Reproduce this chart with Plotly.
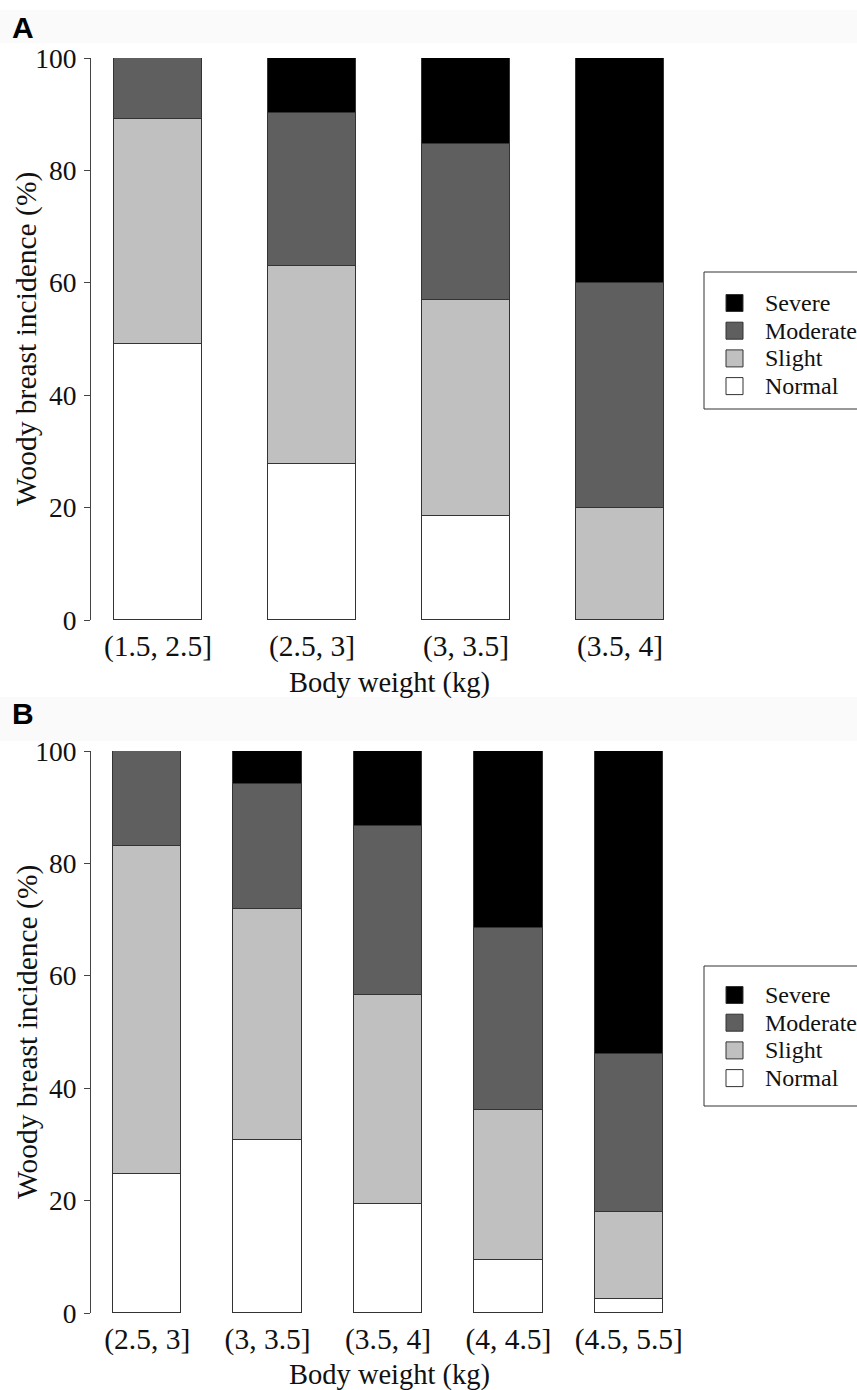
import plotly.graph_objects as go

W, H = 857, 1390

levels = ["Normal", "Slight", "Moderate", "Severe"]
colors = {"Normal": "#ffffff", "Slight": "#c0c0c0", "Moderate": "#5f5f5f", "Severe": "#000000"}

cats_a = ["(1.5, 2.5]", "(2.5, 3]", "(3, 3.5]", "(3.5, 4]"]
normal_a = [49.1, 27.8, 18.5, 0.0]
slight_a = [40.0, 35.2, 38.4, 20.0]
moderate_a = [10.9, 27.2, 27.8, 40.0]
severe_a = [0.0, 9.8, 15.3, 40.0]

cats_b = ["(2.5, 3]", "(3, 3.5]", "(3.5, 4]", "(4, 4.5]", "(4.5, 5.5]"]
normal_b = [24.8, 30.8, 19.4, 9.4, 2.5]
slight_b = [58.3, 41.1, 37.2, 26.7, 15.5]
moderate_b = [16.9, 22.2, 30.1, 32.4, 28.1]
severe_b = [0.0, 5.9, 13.3, 31.5, 53.9]

y_ticks = [0, 20, 40, 60, 80, 100]
x_title = "Body weight (kg)"
y_title = "Woody breast incidence (%)"

SERIF = "Liberation Serif, Times New Roman, serif"


def fx(px):
    return px / W


def fy(py):
    return 1 - py / H


fig = go.Figure()

series_a = {"Normal": normal_a, "Slight": slight_a, "Moderate": moderate_a, "Severe": severe_a}
series_b = {"Normal": normal_b, "Slight": slight_b, "Moderate": moderate_b, "Severe": severe_b}

for lev in levels:
    fig.add_trace(go.Bar(x=cats_a, y=series_a[lev], name=lev, xaxis="x", yaxis="y",
                         width=0.571, marker=dict(color=colors[lev], line=dict(color="#333333", width=1)),
                         showlegend=False))
for lev in levels:
    fig.add_trace(go.Bar(x=cats_b, y=series_b[lev], name=lev, xaxis="x2", yaxis="y2",
                         width=0.569, marker=dict(color=colors[lev], line=dict(color="#333333", width=1)),
                         showlegend=False))

# plot geometry (pixels)
XL, XR = 91, 690
A_TOP, A_BOT = 58, 620
B_TOP, B_BOT = 751, 1313

xa_r0 = -(158 - XL) / 154.0
xa_r1 = xa_r0 + (XR - XL) / 154.0
xb_r0 = -(147.2 - XL) / 120.4
xb_r1 = xb_r0 + (XR - XL) / 120.4

xtickfont = dict(family=SERIF, size=29.5, color="#111111")
ytickfont = dict(family=SERIF, size=27.5, color="#111111")

common_x = dict(type="category", showgrid=False, zeroline=False, showline=False, ticks="",
                tickfont=xtickfont, ticklabelstandoff=5, automargin=False)
common_y = dict(range=[0, 100], tickvals=y_ticks, showgrid=False, zeroline=False, showline=True,
                linecolor="#444444", linewidth=1, ticks="outside", ticklen=6, tickcolor="#444444",
                tickwidth=1, tickfont=ytickfont, ticklabelstandoff=2, automargin=False)

fig.update_layout(
    width=W, height=H,
    margin=dict(l=0, r=0, t=0, b=0, pad=0, autoexpand=False),
    paper_bgcolor="white", plot_bgcolor="white",
    barmode="stack", bargap=0,
    xaxis=dict(domain=[fx(XL), fx(XR)], range=[xa_r0, xa_r1], anchor="y", **common_x),
    yaxis=dict(domain=[fy(A_BOT), fy(A_TOP)], anchor="x", **common_y),
    xaxis2=dict(domain=[fx(XL), fx(XR)], range=[xb_r0, xb_r1], anchor="y2", **common_x),
    yaxis2=dict(domain=[fy(B_BOT), fy(B_TOP)], anchor="x2", **common_y),
)

shapes = []
annotations = []

# faint header bands
shapes.append(dict(type="rect", xref="paper", yref="paper", x0=0, x1=1, y0=fy(43), y1=fy(10),
                   fillcolor="#fafafa", line=dict(width=0), layer="below"))
shapes.append(dict(type="rect", xref="paper", yref="paper", x0=0, x1=1, y0=fy(741), y1=fy(697),
                   fillcolor="#fafafa", line=dict(width=0), layer="below"))

# panel labels
annotations.append(dict(text="<b>A</b>", xref="paper", yref="paper", x=fx(10), y=fy(27),
                        xanchor="left", yanchor="middle", showarrow=False,
                        font=dict(family="Liberation Sans, Arial, sans-serif", size=30, color="black")))
annotations.append(dict(text="<b>B</b>", xref="paper", yref="paper", x=fx(10), y=fy(713),
                        xanchor="left", yanchor="middle", showarrow=False,
                        font=dict(family="Liberation Sans, Arial, sans-serif", size=30, color="black")))

# axis titles
for top, bot, xt_y in [(A_TOP, A_BOT, 683), (B_TOP, B_BOT, 1375)]:
    annotations.append(dict(text=y_title, xref="paper", yref="paper", x=fx(27), y=fy((top + bot) / 2),
                            xanchor="center", yanchor="middle", textangle=-90, showarrow=False,
                            font=dict(family=SERIF, size=29.5, color="#111111")))
    annotations.append(dict(text=x_title, xref="paper", yref="paper", x=fx(389), y=fy(xt_y),
                            xanchor="center", yanchor="middle", showarrow=False,
                            font=dict(family=SERIF, size=28.5, color="#111111")))

# legends
legend_order = ["Severe", "Moderate", "Slight", "Normal"]
for box_top, box_bot, row0 in [(272, 409, 303), (966, 1106, 995)]:
    shapes.append(dict(type="rect", xref="paper", yref="paper", x0=fx(704), x1=fx(880),
                       y0=fy(box_bot), y1=fy(box_top), line=dict(color="#333333", width=1),
                       fillcolor="rgba(0,0,0,0)"))
    for i, lev in enumerate(legend_order):
        cy = row0 + i * 27.7
        shapes.append(dict(type="rect", xref="paper", yref="paper", x0=fx(726), x1=fx(743),
                           y0=fy(cy + 8.5), y1=fy(cy - 8.5), fillcolor=colors[lev],
                           line=dict(color="#333333", width=1)))
        annotations.append(dict(text=lev, xref="paper", yref="paper", x=fx(763), y=fy(cy),
                                xanchor="left", yanchor="middle", showarrow=False,
                                font=dict(family=SERIF, size=24, color="#111111")))

fig.update_layout(shapes=shapes, annotations=annotations)

post = ("document.documentElement.style.margin='0';document.body.style.margin='0';"
        "document.body.style.padding='0';document.documentElement.style.overflow='hidden';"
        "var d=document.getElementById('{plot_id}');if(d){d.style.position='absolute';"
        "d.style.left='0px';d.style.top='0px';}")

fig.write_html("out.html", post_script=post, config={"displayModeBar": False})
